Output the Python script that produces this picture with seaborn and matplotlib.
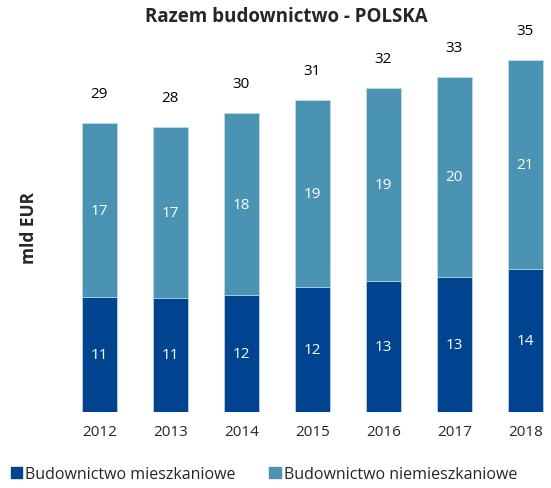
import pandas as pd
import matplotlib
matplotlib.use("Agg")
import matplotlib.pyplot as plt
import seaborn as sns
from matplotlib.patches import Patch

# values in mld EUR
years = ["2012", "2013", "2014", "2015", "2016", "2017", "2018"]
mieszkaniowe = [11.4, 11.3, 11.6, 12.4, 13.0, 13.4, 14.2]
niemieszkaniowe = [17.4, 17.1, 18.2, 18.7, 19.3, 20.0, 20.9]

dark = "#00438F"
light = "#4B93B3"

df = pd.DataFrame({"rok": years, "mieszk": mieszkaniowe, "niemieszk": niemieszkaniowe})
df["razem"] = df["mieszk"] + df["niemieszk"]

sns.set_style("white")
plt.rcParams["font.family"] = ["Open Sans", "DejaVu Sans"]

fig = plt.figure(figsize=(5.51, 4.89), dpi=100)
ax = fig.add_axes([0.116, 0.1564, 0.876, 0.779])

# stacked look: totals first, residential bars drawn over them
sns.barplot(data=df, x="rok", y="razem", color=light, width=0.5, saturation=1,
            edgecolor="#BFD8E6", linewidth=0.6, ax=ax)
sns.barplot(data=df, x="rok", y="mieszk", color=dark, width=0.5, saturation=1,
            edgecolor="#BFD8E6", linewidth=0.6, ax=ax)

fs = 11
for i, row in df.iterrows():
    ax.text(i, row["mieszk"] / 2, "%.0f" % row["mieszk"], ha="center", va="center",
            color="white", fontsize=fs)
    ax.text(i, row["mieszk"] + row["niemieszk"] / 2, "%.0f" % row["niemieszk"],
            ha="center", va="center", color="white", fontsize=fs)
    ax.text(i, row["razem"] + 2.9, "%.0f" % row["razem"], ha="center", va="center",
            color="black", fontsize=fs)

ax.set_xlim(-0.5, 6.3)
ax.set_ylim(0, 38)
ax.set_yticks([])
ax.set_xlabel("")
ax.set_ylabel("mld EUR", fontsize=12.5, fontweight="bold")
ax.yaxis.set_label_coords(-0.054, 0.485)
ax.tick_params(axis="x", length=0, labelsize=fs, pad=9)
sns.despine(ax=ax, left=True, bottom=True)

fig.suptitle("Razem budownictwo - POLSKA", fontsize=13.5, fontweight="bold",
             x=0.52, y=0.965, va="center")

handles = [Patch(color=dark, label="Budownictwo mieszkaniowe"),
           Patch(color=light, label="Budownictwo niemieszkaniowe")]
fig.legend(handles=handles, loc="center left", bbox_to_anchor=(0.02, 0.029), ncol=2,
           frameon=False, fontsize=11.5, handlelength=0.7, handleheight=0.7,
           handletextpad=0.2, columnspacing=2.1, borderpad=0, borderaxespad=0)

fig.savefig("out.png", dpi=100)
